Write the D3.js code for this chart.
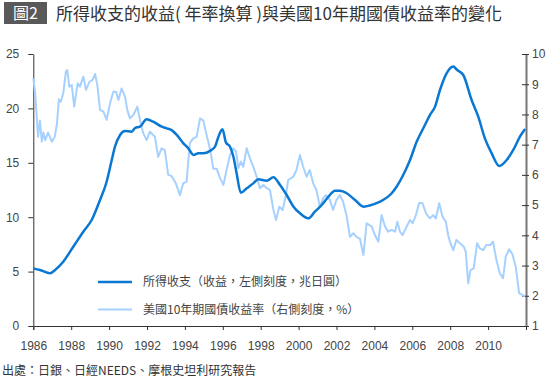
<!DOCTYPE html>
<html lang="zh-Hant">
<head>
<meta charset="UTF-8">
<title>所得收支的收益與美國10年期國債收益率的變化</title>
<script src="https://d3js.org/d3.v7.min.js"></script>
<style>
  body { margin: 0; background: #fff; }
  svg { display: block; font-family: "Liberation Sans", "Noto Sans CJK TC", sans-serif; }
  .axis text { font-size: 12px; fill: #444; }
  .cjk { font-family: "Noto Sans CJK TC", sans-serif; }
</style>
</head>
<body>
<div id="chart"></div>
<script>
// 所得收支的收益（兆日圓，左軸）
const incomeYears = [1986.0, 1986.35, 1986.88, 1987.15, 1987.58, 1988.11, 1988.64, 1989.08, 1989.52, 1989.87,
  1990.14, 1990.31, 1990.58, 1990.84, 1991.19, 1991.37, 1991.63, 1991.98, 1992.33, 1992.78,
  1993.04, 1993.3, 1993.57, 1993.92, 1994.18, 1994.45, 1994.71, 1994.97, 1995.33, 1995.59,
  1995.77, 1995.98, 1996.17, 1996.38, 1996.56, 1996.73, 1996.95, 1997.26, 1997.61, 1997.87,
  1998.32, 1998.67, 1999.02, 1999.37, 1999.73, 2000.07, 2000.51, 2000.86, 2001.22, 2001.57,
  2001.92, 2002.18, 2002.54, 2002.98, 2003.42, 2003.94, 2004.3, 2004.91, 2005.17, 2005.52,
  2005.88, 2006.23, 2006.58, 2006.93, 2007.2, 2007.46, 2007.81, 2008.16, 2008.37, 2008.69,
  2009.13, 2009.48, 2009.83, 2010.19, 2010.59, 2010.98, 2011.33, 2011.68, 2011.95]
const incomeValues = [5.3, 5.15, 4.84, 5.15, 5.91, 7.29, 8.67, 9.74, 11.58, 13.26,
  15.26, 16.48, 17.56, 17.92, 17.86, 18.2, 18.32, 19.0, 18.78, 18.32,
  18.17, 18.0, 17.56, 16.79, 16.33, 15.72, 15.87, 15.87, 16.1, 16.48,
  17.4, 18.08, 16.85, 16.48, 15.56, 14.03, 12.25, 12.65, 13.11, 13.48,
  13.35, 13.67, 12.96, 12.04, 10.97, 10.36, 9.9, 10.51, 11.12, 11.88,
  12.44, 12.44, 12.2, 11.58, 10.97, 11.18, 11.43, 12.2, 12.8, 13.88,
  15.26, 16.94, 18.17, 19.39, 20.16, 21.69, 23.22, 23.84, 23.53, 23.07,
  20.77, 19.24, 17.25, 15.87, 14.71, 15.26, 16.18, 17.4, 18.1]

// 美國10年期國債收益率（%，右軸）
const yieldYears = [1986.0, 1986.1, 1986.25, 1986.35, 1986.45, 1986.53, 1986.63, 1986.78, 1986.98, 1987.13,
  1987.25, 1987.35, 1987.45, 1987.58, 1987.72, 1987.79, 1987.9, 1988.03, 1988.16, 1988.34,
  1988.46, 1988.64, 1988.78, 1988.96, 1989.13, 1989.26, 1989.38, 1989.52, 1989.7, 1989.87,
  1990.05, 1990.22, 1990.37, 1990.49, 1990.66, 1990.84, 1990.96, 1991.1, 1991.28, 1991.49,
  1991.63, 1991.8, 1991.98, 1992.15, 1992.42, 1992.59, 1992.77, 1992.94, 1993.12, 1993.3,
  1993.52, 1993.74, 1993.91, 1994.09, 1994.26, 1994.44, 1994.62, 1994.8, 1994.97, 1995.15,
  1995.33, 1995.5, 1995.68, 1995.85, 1996.03, 1996.2, 1996.38, 1996.56, 1996.7, 1996.82,
  1996.95, 1997.08, 1997.26, 1997.43, 1997.61, 1997.79, 1997.96, 1998.14, 1998.32, 1998.49,
  1998.67, 1998.81, 1998.98, 1999.16, 1999.33, 1999.45, 1999.72, 1999.89, 2000.07, 2000.24,
  2000.42, 2000.59, 2000.77, 2000.94, 2001.12, 2001.3, 2001.44, 2001.65, 2001.82, 2002.0,
  2002.18, 2002.35, 2002.54, 2002.71, 2002.89, 2003.06, 2003.24, 2003.42, 2003.59, 2003.86,
  2004.03, 2004.21, 2004.38, 2004.56, 2004.73, 2004.91, 2005.09, 2005.21, 2005.35, 2005.49,
  2005.7, 2005.88, 2006.02, 2006.19, 2006.37, 2006.54, 2006.72, 2006.93, 2007.1, 2007.24,
  2007.42, 2007.59, 2007.77, 2007.89, 2008.01, 2008.16, 2008.33, 2008.51, 2008.72, 2008.82,
  2008.95, 2009.07, 2009.24, 2009.42, 2009.56, 2009.74, 2009.91, 2010.12, 2010.26, 2010.44,
  2010.62, 2010.79, 2010.93, 2011.11, 2011.28, 2011.46, 2011.64, 2011.81, 2011.93]
const yieldValues = [9.2, 8.7, 7.26, 7.8, 7.1, 7.4, 7.15, 7.4, 7.1, 7.26,
  7.7, 8.5, 8.42, 8.7, 9.42, 9.47, 8.92, 8.97, 8.26, 9.03,
  8.92, 9.25, 8.81, 9.08, 9.14, 9.34, 8.97, 8.15, 8.09, 7.82,
  8.37, 8.75, 8.75, 8.48, 8.86, 8.59, 8.15, 7.87, 7.98, 8.26,
  7.82, 7.38, 7.15, 7.43, 7.26, 6.6, 6.88, 6.82, 6.0, 5.96,
  5.72, 5.33, 5.72, 5.78, 7.05, 7.21, 7.26, 7.87, 7.8, 7.3,
  6.85, 6.2, 6.2, 5.9, 5.67, 6.16, 6.66, 6.88, 6.77, 6.22,
  6.44, 6.27, 6.88, 6.55, 6.27, 5.94, 5.56, 5.67, 5.56, 5.5,
  4.84, 4.51, 4.95, 4.84, 5.33, 5.83, 5.94, 6.16, 6.66, 6.27,
  5.94, 6.16, 5.72, 5.5, 4.95, 5.23, 5.33, 5.17, 4.84, 5.17,
  5.33, 5.11, 4.62, 3.95, 4.07, 3.95, 3.88, 3.35, 4.4, 4.29,
  4.01, 3.79, 4.67, 4.29, 4.12, 4.18, 4.12, 4.45, 4.12, 4.01,
  4.29, 4.51, 4.4, 4.67, 5.08, 5.06, 4.73, 4.56, 4.67, 4.56,
  5.06, 4.62, 4.45, 4.01, 3.74, 3.51, 3.85, 3.74, 3.62, 3.46,
  2.41, 2.85, 2.91, 3.74, 3.57, 3.51, 3.68, 3.68, 3.79, 3.18,
  2.74, 2.58, 3.29, 3.54, 3.38, 2.96, 2.08, 2.03, 1.97]

const xTicks = [1986, 1988, 1990, 1992, 1994, 1996, 1998, 2000, 2002, 2004, 2006, 2008, 2010]
const leftTicks = [0, 5, 10, 15, 20, 25]
const rightTicks = [1, 2, 3, 4, 5, 6, 7, 8, 9, 10]
const legendLabels = ['所得收支（收益，左側刻度，兆日圓）', '美國10年期國債收益率（右側刻度，%）']

const darkBlue = '#0a78d2'
const lightBlue = '#a6d1ff'

var svg = d3.select('#chart').append('svg')
  .attr('width', 554)
  .attr('height', 386)

// title
svg.append('rect')
  .attr('x', 4).attr('y', 2).attr('width', 43).attr('height', 22)
  .style('fill', '#595959')
svg.append('text')
  .attr('class', 'cjk')
  .attr('x', 25.5).attr('y', 19)
  .attr('text-anchor', 'middle')
  .style('font-size', '16px').style('fill', '#fff')
  .text('圖2')
svg.append('text')
  .attr('class', 'cjk')
  .attr('x', 56).attr('y', 20)
  .style('font-size', '17px').style('fill', '#333')
  .text('所得收支的收益( 年率換算 )與美國10年期國債收益率的變化')

const x = d3.scaleLinear().domain([1986, 2012]).range([33.3, 526])
const yL = d3.scaleLinear().domain([0, 25]).range([326, 54])
const yR = d3.scaleLinear().domain([1, 10]).range([326, 54])

// axes
svg.append('g')
  .attr('class', 'axis')
  .attr('transform', 'translate(0, 326)')
  .call(d3.axisBottom(x).tickValues(xTicks).tickFormat(d3.format('d')).tickSizeInner(4).tickSizeOuter(4).tickPadding(11))
  .call(g => g.selectAll('path, line').attr('stroke', '#333'))

svg.append('g')
  .attr('class', 'axis')
  .attr('transform', 'translate(33.3, 0)')
  .call(d3.axisLeft(yL).tickValues(leftTicks).tickSizeInner(5).tickSizeOuter(0).tickPadding(9))
  .call(g => g.selectAll('path, line').attr('stroke', '#333'))

svg.append('g')
  .attr('class', 'axis')
  .attr('transform', 'translate(526, 0)')
  .call(d3.axisRight(yR).tickValues(rightTicks).tickSizeInner(3).tickSizeOuter(0).tickPadding(3))
  .call(g => g.select('.domain').attr('stroke', '#777').attr('stroke-width', 2))
  .call(g => g.selectAll('.tick line').attr('stroke', '#333').attr('x1', -4))

// lines
const yieldPts = yieldYears.map((d, i) => [d, yieldValues[i]])
const incomePts = incomeYears.map((d, i) => [d, incomeValues[i]])

svg.append('path')
  .datum(yieldPts)
  .attr('d', d3.line().x(d => x(d[0])).y(d => yR(d[1])))
  .style('fill', 'none')
  .style('stroke', lightBlue)
  .style('stroke-width', 2)
  .style('stroke-linejoin', 'round')

svg.append('path')
  .datum(incomePts)
  .attr('d', d3.line().curve(d3.curveMonotoneX).x(d => x(d[0])).y(d => yL(d[1])))
  .style('fill', 'none')
  .style('stroke', darkBlue)
  .style('stroke-width', 2.5)
  .style('stroke-linejoin', 'round')

// legend
const legend = svg.append('g')
legend.selectAll('line')
  .data(legendLabels)
  .enter()
  .append('line')
  .attr('x1', 98).attr('x2', 132)
  .attr('y1', (d, i) => 282 + i * 27.5)
  .attr('y2', (d, i) => 282 + i * 27.5)
  .style('stroke', (d, i) => i == 0 ? darkBlue : lightBlue)
  .style('stroke-width', (d, i) => i == 0 ? 2.5 : 2)
legend.selectAll('text')
  .data(legendLabels)
  .enter()
  .append('text')
  .attr('class', 'cjk')
  .attr('x', 143)
  .attr('y', (d, i) => 286 + i * 27.5)
  .style('font-size', '12px').style('fill', '#444')
  .text(d => d)

// source
svg.append('text')
  .attr('class', 'cjk')
  .attr('x', 2).attr('y', 375)
  .style('font-size', '12px').style('fill', '#333')
  .text('出處：日銀、日經NEEDS、摩根史坦利研究報告')
</script>
</body>
</html>
